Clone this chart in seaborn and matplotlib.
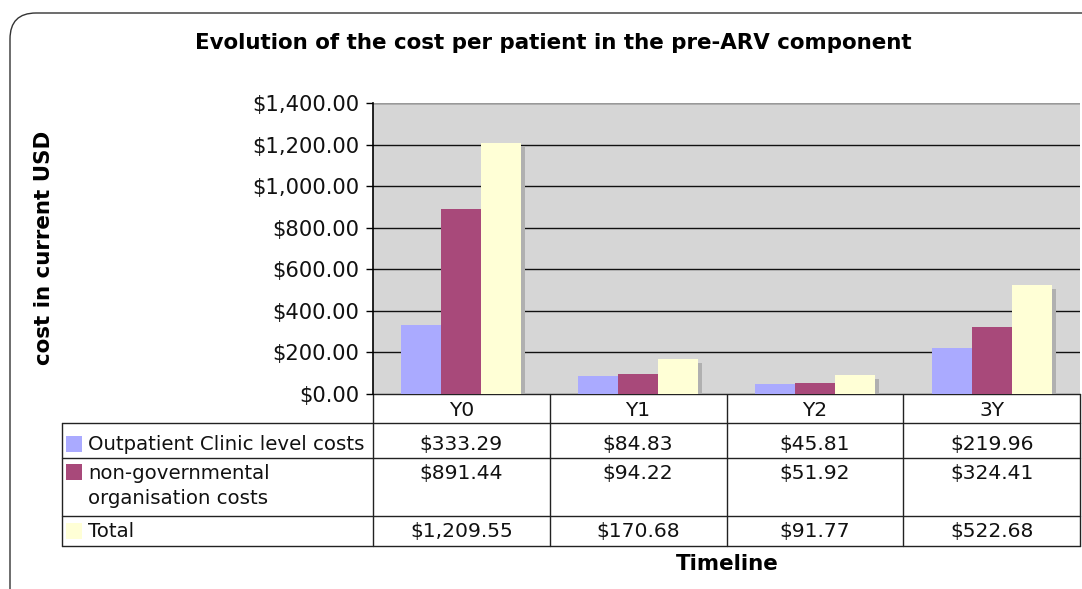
import matplotlib
matplotlib.use("Agg")
import matplotlib.pyplot as plt
import matplotlib.patheffects as pe
from matplotlib.patches import FancyBboxPatch, Rectangle
from matplotlib.ticker import FuncFormatter, MultipleLocator
import pandas as pd
import seaborn as sns

# Data
periods = ["Y0", "Y1", "Y2", "3Y"]
series_names = ["Outpatient Clinic level costs",
                "non-governmental\norganisation costs",
                "Total"]
outpatient = [333.29, 84.83, 45.81, 219.96]
ngo = [891.44, 94.22, 51.92, 324.41]
total = [1209.55, 170.68, 91.77, 522.68]
colors = ["#AAAAFF", "#A8497A", "#FFFFD6"]

series_values = [outpatient, ngo, total]
df = pd.DataFrame({
    "period": periods * 3,
    "series": [s for s in series_names for _ in periods],
    "cost": outpatient + ngo + total,
})

W, H = 1082, 589
sns.set_theme(style="white")
plt.rcParams["font.family"] = ["DejaVu Sans"]
plt.rcParams["text.color"] = "black"
fig = plt.figure(figsize=(W / 100, H / 100), dpi=100)

# Background layer in pixel coordinates: rounded frame, titles and data table
bg = fig.add_axes([0, 0, 1, 1], zorder=0)
bg.set_xlim(0, W)
bg.set_ylim(H, 0)
bg.axis("off")
bg.add_patch(FancyBboxPatch((10, 13), 1200, 700,
                            boxstyle="round,pad=0,rounding_size=26",
                            facecolor="white", edgecolor="#333333", lw=1.0))

bold_fs = 15.4
bg.text(553, 43, "Evolution of the cost per patient in the pre-ARV component",
        ha="center", va="center", fontsize=bold_fs, fontweight="bold",
        color="black")
bg.text(44, 248, "cost in current USD", rotation=90, ha="center",
        va="center", fontsize=bold_fs, fontweight="bold", color="black")
bg.text(727, 564, "Timeline", ha="center", va="center", fontsize=bold_fs,
        fontweight="bold", color="black")

# Plot area
left, right, top, bottom = 373, 1080, 103, 394
ax = fig.add_axes([left / W, (H - bottom) / H, (right - left) / W,
                   (bottom - top) / H], zorder=2)
ax.set_facecolor("#D6D6D6")
sns.barplot(data=df, x="period", y="cost", hue="series", order=periods,
            hue_order=series_names, palette=colors, width=0.68, gap=0,
            saturation=1, legend=False, ax=ax, errorbar=None,
            linewidth=0, edgecolor="none")
for bar in ax.patches:
    bar.set_path_effects([pe.SimplePatchShadow(offset=(2.9, -2.9),
                                               shadow_rgbFace="#B0B0B0",
                                               alpha=1.0),
                          pe.Normal()])
    bar.set_zorder(3)

ax.set_xlim(-0.5, len(periods) - 0.5)
ax.set_ylim(0, 1400)
ax.yaxis.set_major_locator(MultipleLocator(200))
ax.yaxis.set_major_formatter(FuncFormatter(lambda v, _: f"${v:,.2f}"))
ax.grid(axis="y", color="#111111", lw=1.0)
ax.set_axisbelow(True)
ax.set_xticks([])
ax.set_xlabel("")
ax.set_ylabel("")
ax.tick_params(axis="y", which="major", left=True, length=5, width=1,
               color="black", labelsize=15.2, pad=5, labelcolor="#111111")
for side in ["top", "right", "bottom"]:
    ax.spines[side].set_visible(False)
ax.spines["left"].set_color("black")
ax.spines["left"].set_linewidth(1.2)
ax.axhline(1400, color="#999999", lw=1.5, zorder=1)

# Data table below the plot area
col_edges = [left + i * (right - left) / len(periods)
             for i in range(len(periods) + 1)]
row_edges = [394, 423, 458, 516, 546]
label_left = 62
lc = "#222222"
lw = 1.0
bg.plot([left, right], [row_edges[0], row_edges[0]], color=lc, lw=lw)
for y in row_edges[1:]:
    bg.plot([label_left, right], [y, y], color=lc, lw=lw)
for x in col_edges:
    bg.plot([x, x], [row_edges[0], row_edges[-1]], color=lc, lw=lw)
bg.plot([label_left, label_left], [row_edges[1], row_edges[-1]], color=lc, lw=lw)

label_fs = 14.2
value_fs = 14.6
for i, p in enumerate(periods):
    cx = (col_edges[i] + col_edges[i + 1]) / 2
    bg.text(cx, (row_edges[0] + row_edges[1]) / 2 + 2, p, ha="center",
            va="center", fontsize=value_fs, color="#111111")

swatch_tops = [436, 464, 523]
text_tops = [438, 467, 525]
for r, (name, vals, col) in enumerate(zip(series_names, series_values, colors)):
    bg.add_patch(Rectangle((66, swatch_tops[r]), 16, 16, facecolor=col,
                           edgecolor="none"))
    bg.text(88, text_tops[r] - 3, name, ha="left", va="top", fontsize=label_fs,
            color="#111111", linespacing=1.4)
    for i, v in enumerate(vals):
        cx = (col_edges[i] + col_edges[i + 1]) / 2
        bg.text(cx, text_tops[r] - 3, f"${v:,.2f}", ha="center", va="top",
                fontsize=value_fs, color="#111111")

fig.savefig("out.png", dpi=100)
